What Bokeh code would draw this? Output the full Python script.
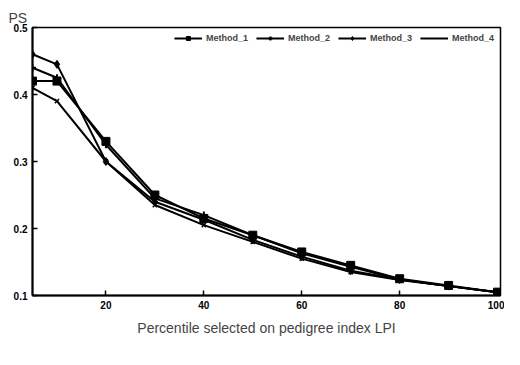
from bokeh.plotting import figure
from bokeh.models import Range1d, Legend, LegendItem, FixedTicker, CustomJSTickFormatter
from bokeh.embed import file_html
from bokeh.resources import INLINE

percentile = [5, 10, 20, 30, 40, 50, 60, 70, 80, 90, 100]
method_1 = [0.420, 0.420, 0.330, 0.250, 0.215, 0.190, 0.165, 0.145, 0.125, 0.115, 0.105]
method_2 = [0.440, 0.425, 0.325, 0.245, 0.220, 0.190, 0.163, 0.143, 0.124, 0.114, 0.105]
method_3 = [0.460, 0.445, 0.300, 0.240, 0.213, 0.183, 0.158, 0.137, 0.124, 0.114, 0.105]
method_4 = [0.410, 0.390, 0.300, 0.235, 0.205, 0.180, 0.155, 0.135, 0.123, 0.114, 0.105]
series_names = ["Method_1", "Method_2", "Method_3", "Method_4"]
x_ticks = [20, 40, 60, 80, 100]
y_ticks = [0.1, 0.2, 0.3, 0.4, 0.5]

FONT = "Liberation Sans"

p = figure(width=504, height=349, output_backend="svg", toolbar_location=None,
           x_range=Range1d(5, 100.6), y_range=Range1d(0.1, 0.5),
           min_border_left=32, min_border_right=4, min_border_top=27, min_border_bottom=54)
p.grid.visible = False
p.outline_line_color = "black"
p.outline_line_width = 1.5

p.title.text = "PS"
p.title.align = "left"
p.title.offset = -24
p.title.text_font = FONT
p.title.text_font_size = "14px"
p.title.text_font_style = "normal"
p.title.standoff = 4

for ax in (p.xaxis[0], p.yaxis[0]):
    ax.axis_line_width = 2
    ax.axis_line_color = "black"
    ax.major_tick_line_color = "black"
    ax.major_tick_line_width = 1.5
    ax.minor_tick_line_color = None
    ax.major_tick_in = 5
    ax.major_tick_out = 0
    ax.major_label_text_font = FONT
    ax.major_label_text_font_style = "bold"
    ax.major_label_text_font_size = "10px"
    ax.major_label_text_color = "black"

p.xaxis.ticker = FixedTicker(ticks=x_ticks)
p.yaxis.ticker = FixedTicker(ticks=y_ticks)
p.yaxis.formatter = CustomJSTickFormatter(code="return tick.toFixed(1);")
p.xaxis.axis_label = "Percentile selected on pedigree index LPI"
p.xaxis.axis_label_text_font = FONT
p.xaxis.axis_label_text_font_style = "normal"
p.xaxis.axis_label_text_font_size = "14px"
p.xaxis.axis_label_standoff = 8

lw = 2
r1 = p.line(percentile, method_1, line_color="black", line_width=lw)
m1 = p.scatter(percentile, method_1, marker="square", size=8, color="black")
r2 = p.line(percentile, method_2, line_color="black", line_width=lw)
m2 = p.scatter(percentile, method_2, marker="cross", size=7, line_color="black", line_width=2)
r3 = p.line(percentile, method_3, line_color="black", line_width=lw)
m3 = p.scatter(percentile, method_3, marker="diamond", size=8, color="black")
r4 = p.line(percentile, method_4, line_color="black", line_width=lw)
m4 = p.scatter(percentile, method_4, marker="x", size=6, line_color="black", line_width=1.5)

legend = Legend(items=[
    LegendItem(label=series_names[0], renderers=[r1, m1]),
    LegendItem(label=series_names[1], renderers=[r2, m2]),
    LegendItem(label=series_names[2], renderers=[r3, m3]),
    LegendItem(label=series_names[3], renderers=[r4]),
], orientation="horizontal", location="top_right", background_fill_alpha=0,
    border_line_color=None, label_text_font=FONT, label_text_font_size="9px",
    label_text_font_style="bold", glyph_width=28, glyph_height=10, label_standoff=4,
    spacing=8, padding=4, margin=6, label_height=10)
p.add_layout(legend, "center")

open("out.html", "w").write(file_html(p, INLINE))
